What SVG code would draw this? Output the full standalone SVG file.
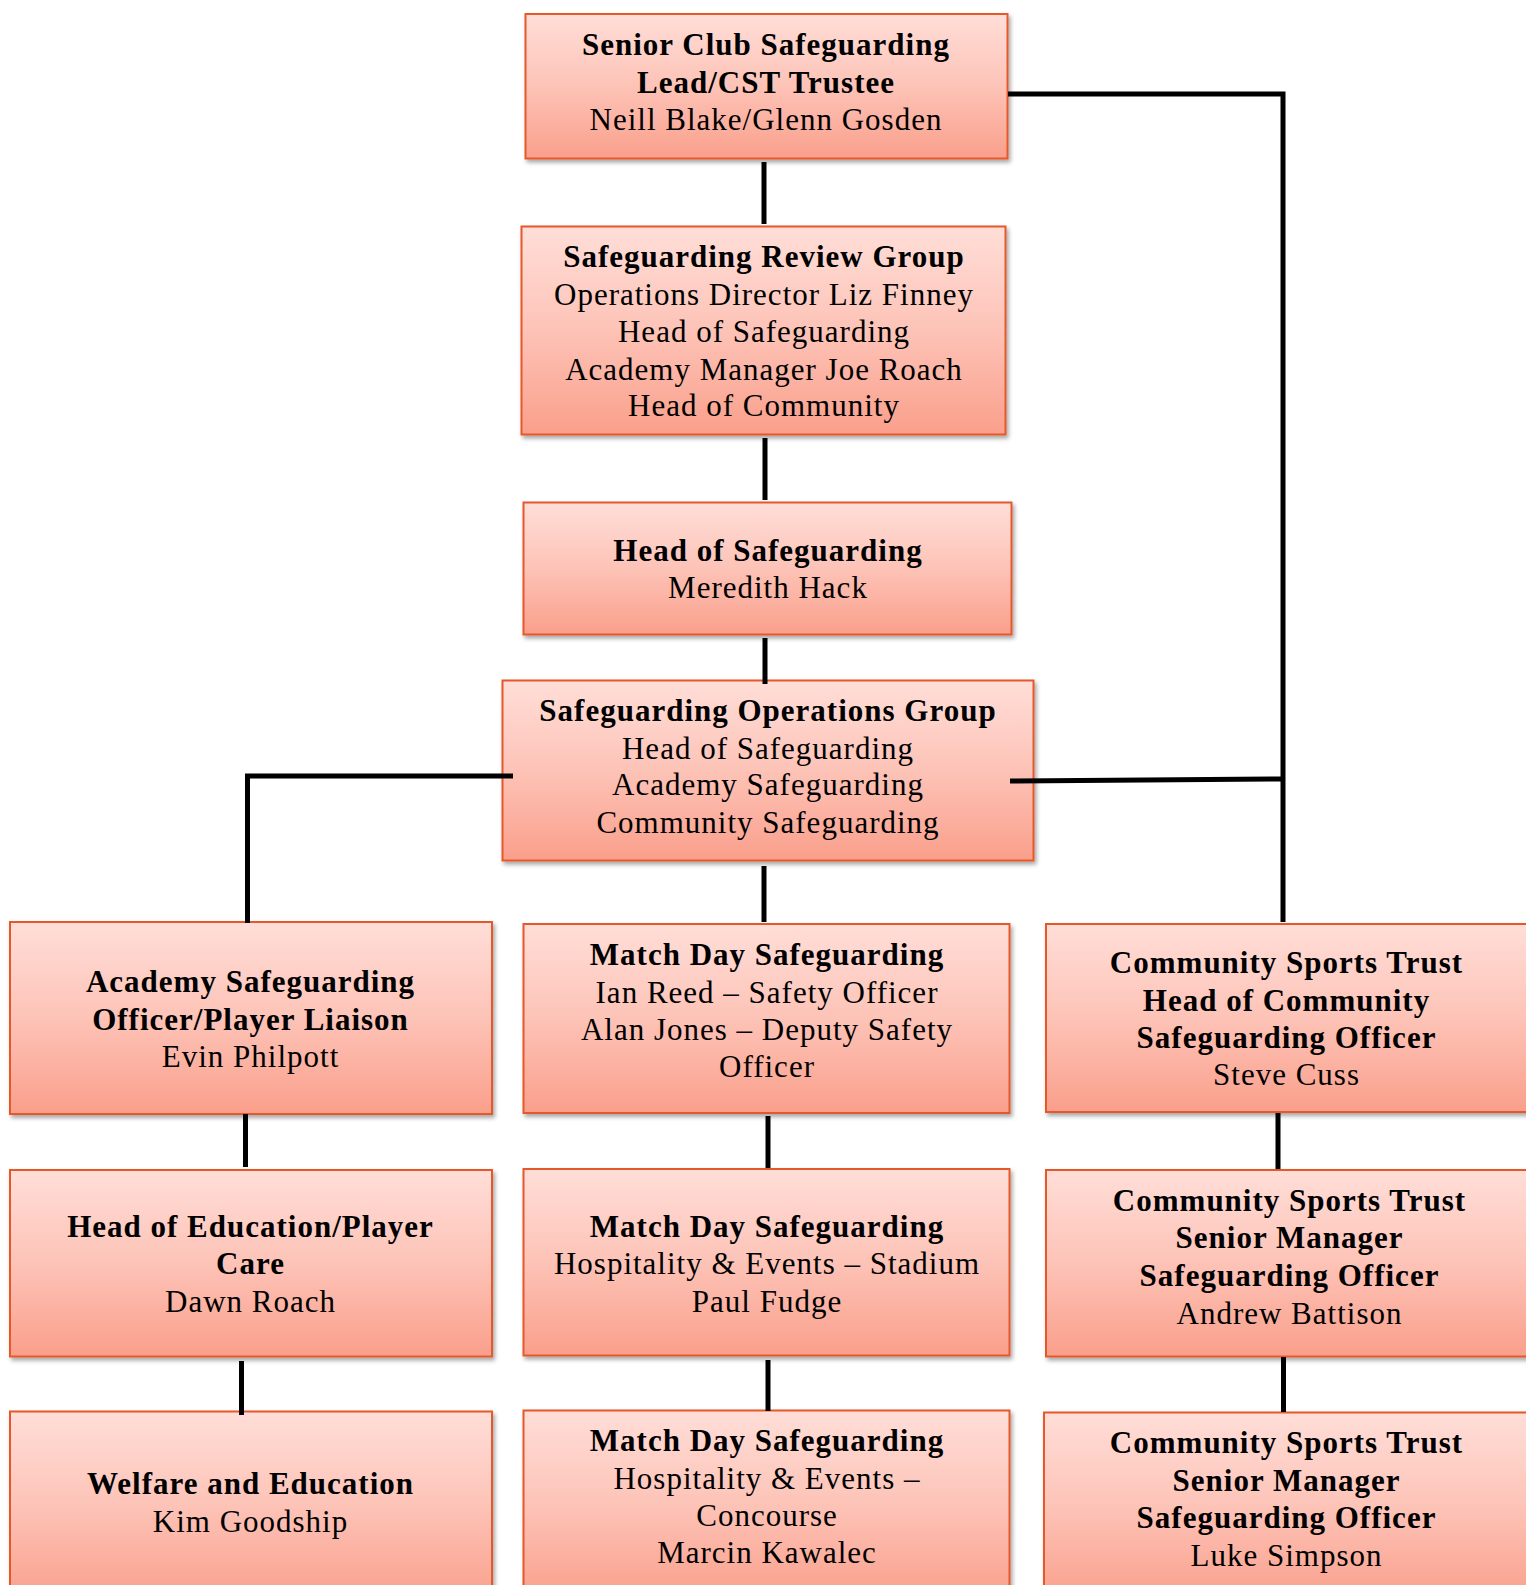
<svg xmlns="http://www.w3.org/2000/svg" width="1526" height="1585" viewBox="0 0 1526 1585">
<defs>
<linearGradient id="g" x1="0" y1="0" x2="0" y2="1">
<stop offset="0" stop-color="#FFDED8"/>
<stop offset="0.5" stop-color="#FDC3B7"/>
<stop offset="1" stop-color="#FA9F8B"/>
</linearGradient>
<filter id="sh" x="-5%" y="-5%" width="115%" height="120%">
<feDropShadow dx="2" dy="3" stdDeviation="2" flood-color="#000" flood-opacity="0.35"/>
</filter>
</defs>
<style>
.box{fill:url(#g);stroke:#E5582B;stroke-width:2;filter:url(#sh)}
text{font-family:"Liberation Serif",serif;font-size:31px;letter-spacing:1px;text-anchor:middle;fill:#000}
.b{font-weight:bold}
.con{fill:none;stroke:#000;stroke-width:5}
</style>
<rect width="1526" height="1585" fill="#fff"/>

<g id="senior-club">
<rect class="box" x="525.5" y="14" width="482" height="144.5"/>
<text class="b" x="766" y="55">Senior Club Safeguarding</text>
<text class="b" x="766" y="92.5">Lead/CST Trustee</text>
<text x="766" y="129.5">Neill Blake/Glenn Gosden</text>
</g>

<g id="review-group">
<rect class="box" x="521.5" y="226.5" width="484" height="208"/>
<text class="b" x="764" y="267">Safeguarding Review Group</text>
<text x="764" y="305">Operations Director Liz Finney</text>
<text x="764" y="341.5">Head of Safeguarding</text>
<text x="764" y="380">Academy Manager Joe Roach</text>
<text x="764" y="416">Head of Community</text>
</g>

<g id="head-safeguarding">
<rect class="box" x="523.5" y="502.5" width="488" height="132"/>
<text class="b" x="768" y="561">Head of Safeguarding</text>
<text x="768" y="598">Meredith Hack</text>
</g>

<g id="operations-group">
<rect class="box" x="502.5" y="680.5" width="531" height="180"/>
<text class="b" x="768" y="720.5">Safeguarding Operations Group</text>
<text x="768" y="759">Head of Safeguarding</text>
<text x="768" y="795">Academy Safeguarding</text>
<text x="768" y="833">Community Safeguarding</text>
</g>

<g id="academy-officer">
<rect class="box" x="10" y="922" width="482" height="192"/>
<text class="b" x="250.5" y="992">Academy Safeguarding</text>
<text class="b" x="250.5" y="1030">Officer/Player Liaison</text>
<text x="250.5" y="1067">Evin Philpott</text>
</g>

<g id="match-day-1">
<rect class="box" x="523.5" y="924" width="486" height="189"/>
<text class="b" x="767" y="965">Match Day Safeguarding</text>
<text x="767" y="1002.5">Ian Reed – Safety Officer</text>
<text x="767" y="1040">Alan Jones – Deputy Safety</text>
<text x="767" y="1077">Officer</text>
</g>

<g id="community-head">
<rect class="box" x="1046" y="924" width="484" height="188"/>
<text class="b" x="1286.5" y="973">Community Sports Trust</text>
<text class="b" x="1286.5" y="1010.5">Head of Community</text>
<text class="b" x="1286.5" y="1048">Safeguarding Officer</text>
<text x="1286.5" y="1085">Steve Cuss</text>
</g>

<g id="head-education">
<rect class="box" x="10" y="1170" width="482" height="186.5"/>
<text class="b" x="250.5" y="1237">Head of Education/Player</text>
<text class="b" x="250.5" y="1274">Care</text>
<text x="250.5" y="1312">Dawn Roach</text>
</g>

<g id="match-day-2">
<rect class="box" x="523.5" y="1169" width="486" height="186.5"/>
<text class="b" x="767" y="1237">Match Day Safeguarding</text>
<text x="767" y="1274">Hospitality &amp; Events – Stadium</text>
<text x="767" y="1312">Paul Fudge</text>
</g>

<g id="community-senior-1">
<rect class="box" x="1046" y="1170" width="484" height="186.5"/>
<text class="b" x="1289.5" y="1211">Community Sports Trust</text>
<text class="b" x="1289.5" y="1248">Senior Manager</text>
<text class="b" x="1289.5" y="1285.5">Safeguarding Officer</text>
<text x="1289.5" y="1324">Andrew Battison</text>
</g>

<g id="welfare">
<rect class="box" x="10" y="1411.5" width="482" height="190"/>
<text class="b" x="250.5" y="1494">Welfare and Education</text>
<text x="250.5" y="1532">Kim Goodship</text>
</g>

<g id="match-day-3">
<rect class="box" x="523.5" y="1410.5" width="486" height="190"/>
<text class="b" x="767" y="1451">Match Day Safeguarding</text>
<text x="767" y="1488.5">Hospitality &amp; Events –</text>
<text x="767" y="1526">Concourse</text>
<text x="767" y="1563">Marcin Kawalec</text>
</g>

<g id="community-senior-2">
<rect class="box" x="1044" y="1412.5" width="486" height="190"/>
<text class="b" x="1286.5" y="1453">Community Sports Trust</text>
<text class="b" x="1286.5" y="1490.5">Senior Manager</text>
<text class="b" x="1286.5" y="1528">Safeguarding Officer</text>
<text x="1286.5" y="1566">Luke Simpson</text>
</g>

<g id="connectors">
<path class="con" d="M764,162 V224"/>
<path class="con" d="M765,438 V500"/>
<path class="con" d="M765,638 V684"/>
<path class="con" d="M764,866 V922"/>
<path class="con" d="M513,776 H247.5 V923"/>
<path class="con" d="M1010,781 L1283,779"/>
<path class="con" d="M1008,94 H1283 V922"/>
<path class="con" d="M245.5,1114 V1167"/>
<path class="con" d="M241.5,1361 V1415"/>
<path class="con" d="M768,1116 V1168"/>
<path class="con" d="M768,1360 V1411"/>
<path class="con" d="M1278,1113 V1169"/>
<path class="con" d="M1283.5,1357 V1412"/>
</g>
</svg>
